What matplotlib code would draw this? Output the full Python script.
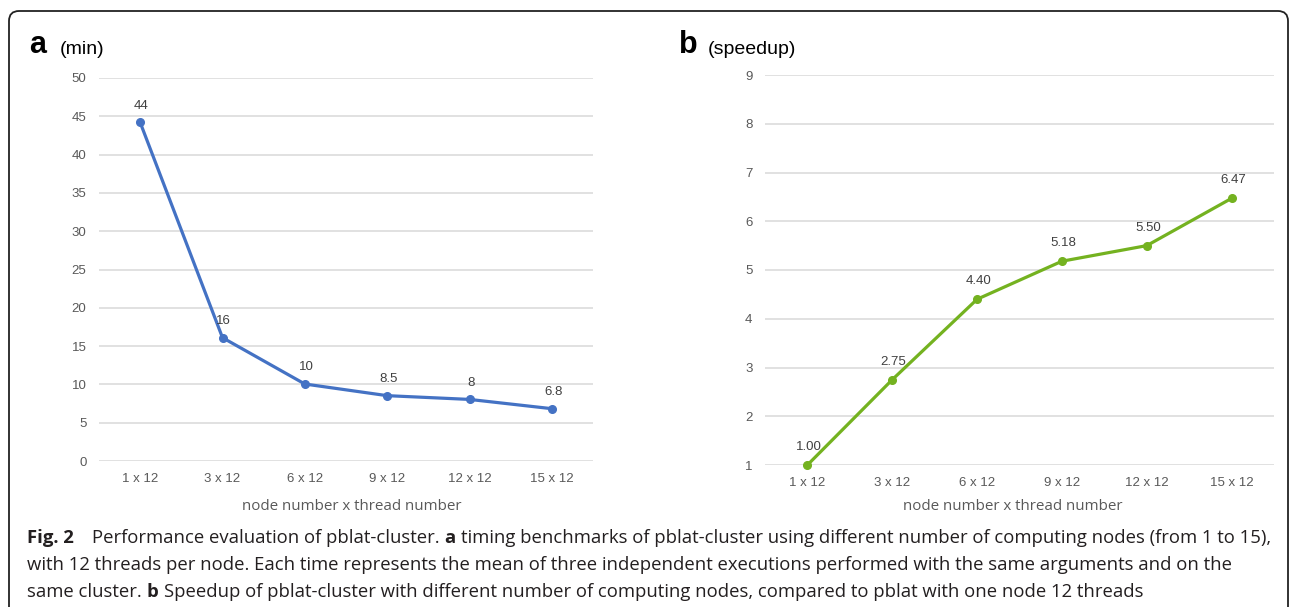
import matplotlib
matplotlib.use("Agg")
import matplotlib.pyplot as plt
from matplotlib.patches import FancyBboxPatch
from matplotlib.transforms import IdentityTransform

# data
categories = ["1 x 12", "3 x 12", "6 x 12", "9 x 12", "12 x 12", "15 x 12"]
time_min = [44.2, 16.1, 10.05, 8.53, 8.04, 6.83]
time_labels = ["44", "16", "10", "8.5", "8", "6.8"]
speedup = [1.00, 2.75, 4.40, 5.18, 5.50, 6.47]
a_yticks = [0, 5, 10, 15, 20, 25, 30, 35, 40, 45, 50]
b_yticks = [1, 2, 3, 4, 5, 6, 7, 8, 9]

blue = "#4472C4"
green = "#74B220"
tick_col = "#595959"
lab_col = "#404040"
W, H = 1290, 607

fig = plt.figure(figsize=(W / 100, H / 100), dpi=100)
fig.patch.set_facecolor("white")

def fx(px):
    return px / W

def fy(py):
    return 1 - py / H

def style_axes(ax, yticks):
    for s in ax.spines.values():
        s.set_visible(False)
    ax.set_yticks(yticks)
    ax.set_ylim(yticks[0], yticks[-1])
    ax.set_xlim(-0.5, len(categories) - 0.5)
    ax.set_xticks(range(len(categories)))
    ax.set_xticklabels(categories)
    ax.grid(axis="y", color="#D9D9D9", linewidth=1.1)
    ax.set_axisbelow(True)
    ax.tick_params(length=0, labelsize=9.5, labelcolor=tick_col, labelfontfamily="Liberation Sans")
    ax.tick_params(axis="y", pad=9)
    ax.tick_params(axis="x", pad=9)

# panel a
ax1 = fig.add_axes([fx(99), fy(461), fx(593 - 99), (461 - 78) / H])
style_axes(ax1, a_yticks)
x = list(range(len(categories)))
ax1.plot(x, time_min, color=blue, linewidth=2.3, marker="o", markersize=5.5, clip_on=False)
for xi, yi, s in zip(x, time_min, time_labels):
    ax1.annotate(s, (xi, yi), xytext=(1, 12), textcoords="offset points",
                 ha="center", va="center", fontsize=9.5, color=lab_col, family="Liberation Sans")

# panel b
ax2 = fig.add_axes([fx(765), fy(465), fx(1274 - 765), (465 - 75) / H])
style_axes(ax2, b_yticks)
ax2.plot(x, speedup, color=green, linewidth=2.3, marker="o", markersize=5.5, clip_on=False)
for xi, yi in zip(x, speedup):
    ax2.annotate("%.2f" % yi, (xi, yi), xytext=(1, 13), textcoords="offset points",
                 ha="center", va="center", fontsize=9.5, color=lab_col, family="Liberation Sans")

# panel titles
fig.text(fx(29), fy(53), "a", fontsize=22, fontweight="bold", family="Liberation Sans", va="baseline")
fig.text(fx(60), fy(54), "(min)", fontsize=14, family="Liberation Sans", va="baseline")
fig.text(fx(679), fy(53), "b", fontsize=22, fontweight="bold", family="Liberation Sans", va="baseline")
fig.text(fx(708), fy(54), "(speedup)", fontsize=14, family="Liberation Sans", va="baseline")

# x labels
fig.text(fx(352), fy(507), "node number x thread number", fontsize=10.9, color=tick_col,
         family="Open Sans", ha="center", va="center")
fig.text(fx(1013), fy(507), "node number x thread number", fontsize=10.9, color=tick_col,
         family="Open Sans", ha="center", va="center")

# caption
cap_kw = dict(fontsize=13.3, color="#231F20", family="Open Sans", va="center")
renderer = fig.canvas.get_renderer()

def rich_line(x0, y0, parts):
    xc = x0
    for s, bold, gap in parts:
        t = fig.text(fx(xc), fy(y0), s, fontweight="bold" if bold else "normal", **cap_kw)
        bb = t.get_window_extent(renderer)
        xc = bb.x1 + gap

sp = 5
rich_line(27, 538, [("Fig. 2", True, 18),
                    ("Performance evaluation of pblat-cluster.", False, sp),
                    ("a", True, sp),
                    ("timing benchmarks of pblat-cluster using different number of computing nodes (from 1 to 15),", False, 0)])
rich_line(27, 565, [("with 12 threads per node. Each time represents the mean of three independent executions performed with the same arguments and on the", False, 0)])
rich_line(27, 592, [("same cluster.", False, sp),
                    ("b", True, sp),
                    ("Speedup of pblat-cluster with different number of computing nodes, compared to pblat with one node 12 threads", False, 0)])

# rounded border
border = FancyBboxPatch((9, -30), 1288 - 9, (H - 11) + 30,
                        boxstyle="round,pad=0,rounding_size=10",
                        transform=IdentityTransform(), fill=False,
                        edgecolor="#222222", linewidth=1.3)
fig.patches.append(border)

fig.savefig("out.png", dpi=100, facecolor="white")
